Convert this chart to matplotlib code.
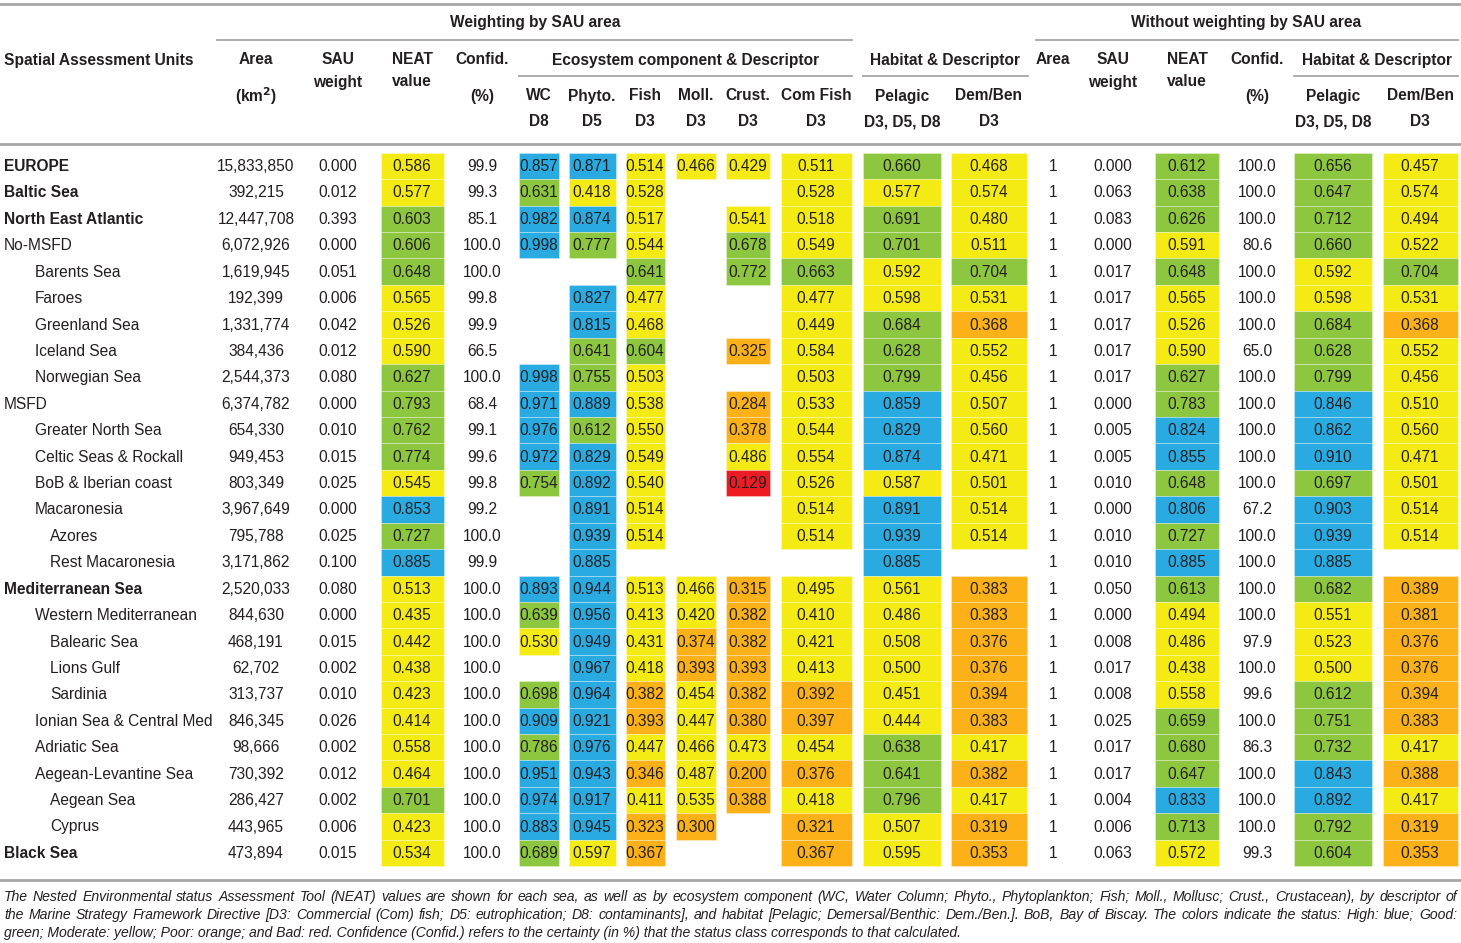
import numpy as np
import matplotlib
matplotlib.use("Agg")
import matplotlib.pyplot as plt
from matplotlib.colors import ListedColormap, BoundaryNorm
from matplotlib import font_manager

nan = np.nan

units = ["EUROPE", "Baltic Sea", "North East Atlantic", "No-MSFD", "Barents Sea", "Faroes",
         "Greenland Sea", "Iceland Sea", "Norwegian Sea", "MSFD", "Greater North Sea",
         "Celtic Seas & Rockall", "BoB & Iberian coast", "Macaronesia", "Azores",
         "Rest Macaronesia", "Mediterranean Sea", "Western Mediterranean", "Balearic Sea",
         "Lions Gulf", "Sardinia", "Ionian Sea & Central Med", "Adriatic Sea",
         "Aegean-Levantine Sea", "Aegean Sea", "Cyprus", "Black Sea"]
level = [0, 0, 0, 0, 1, 1, 1, 1, 1, 0, 1, 1, 1, 1, 2, 2, 0, 1, 2, 2, 2, 1, 1, 1, 2, 2, 0]
bold_rows = ["EUROPE", "Baltic Sea", "North East Atlantic", "Mediterranean Sea", "Black Sea"]

# weighting by SAU area
area_km2 = [15833850, 392215, 12447708, 6072926, 1619945, 192399, 1331774, 384436, 2544373,
            6374782, 654330, 949453, 803349, 3967649, 795788, 3171862, 2520033, 844630,
            468191, 62702, 313737, 846345, 98666, 730392, 286427, 443965, 473894]
sau_w = [0.000, 0.012, 0.393, 0.000, 0.051, 0.006, 0.042, 0.012, 0.080, 0.000, 0.010, 0.015,
         0.025, 0.000, 0.025, 0.100, 0.080, 0.000, 0.015, 0.002, 0.010, 0.026, 0.002, 0.012,
         0.002, 0.006, 0.015]
neat_w = [0.586, 0.577, 0.603, 0.606, 0.648, 0.565, 0.526, 0.590, 0.627, 0.793, 0.762, 0.774,
          0.545, 0.853, 0.727, 0.885, 0.513, 0.435, 0.442, 0.438, 0.423, 0.414, 0.558, 0.464,
          0.701, 0.423, 0.534]
conf_w = [99.9, 99.3, 85.1, 100.0, 100.0, 99.8, 99.9, 66.5, 100.0, 68.4, 99.1, 99.6, 99.8,
          99.2, 100.0, 99.9, 100.0, 100.0, 100.0, 100.0, 100.0, 100.0, 100.0, 100.0, 100.0,
          100.0, 100.0]
wc_d8 = [0.857, 0.631, 0.982, 0.998, nan, nan, nan, nan, 0.998, 0.971, 0.976, 0.972, 0.754,
         nan, nan, nan, 0.893, 0.639, 0.530, nan, 0.698, 0.909, 0.786, 0.951, 0.974, 0.883, 0.689]
phyto_d5 = [0.871, 0.418, 0.874, 0.777, nan, 0.827, 0.815, 0.641, 0.755, 0.889, 0.612, 0.829,
            0.892, 0.891, 0.939, 0.885, 0.944, 0.956, 0.949, 0.967, 0.964, 0.921, 0.976, 0.943,
            0.917, 0.945, 0.597]
fish_d3 = [0.514, 0.528, 0.517, 0.544, 0.641, 0.477, 0.468, 0.604, 0.503, 0.538, 0.550, 0.549,
           0.540, 0.514, 0.514, nan, 0.513, 0.413, 0.431, 0.418, 0.382, 0.393, 0.447, 0.346,
           0.411, 0.323, 0.367]
moll_d3 = [0.466, nan, nan, nan, nan, nan, nan, nan, nan, nan, nan, nan, nan, nan, nan, nan,
           0.466, 0.420, 0.374, 0.393, 0.454, 0.447, 0.466, 0.487, 0.535, 0.300, nan]
crust_d3 = [0.429, nan, 0.541, 0.678, 0.772, nan, nan, 0.325, nan, 0.284, 0.378, 0.486, 0.129,
            nan, nan, nan, 0.315, 0.382, 0.382, 0.393, 0.382, 0.380, 0.473, 0.200, 0.388, nan, nan]
comfish_d3 = [0.511, 0.528, 0.518, 0.549, 0.663, 0.477, 0.449, 0.584, 0.503, 0.533, 0.544,
              0.554, 0.526, 0.514, 0.514, nan, 0.495, 0.410, 0.421, 0.413, 0.392, 0.397, 0.454,
              0.376, 0.418, 0.321, 0.367]
pel_w = [0.660, 0.577, 0.691, 0.701, 0.592, 0.598, 0.684, 0.628, 0.799, 0.859, 0.829, 0.874,
         0.587, 0.891, 0.939, 0.885, 0.561, 0.486, 0.508, 0.500, 0.451, 0.444, 0.638, 0.641,
         0.796, 0.507, 0.595]
dem_w = [0.468, 0.574, 0.480, 0.511, 0.704, 0.531, 0.368, 0.552, 0.456, 0.507, 0.560, 0.471,
         0.501, 0.514, 0.514, nan, 0.383, 0.383, 0.376, 0.376, 0.394, 0.383, 0.417, 0.382,
         0.417, 0.319, 0.353]

# without weighting by SAU area
area_u = [1] * 27
sau_u = [0.000, 0.063, 0.083, 0.000, 0.017, 0.017, 0.017, 0.017, 0.017, 0.000, 0.005, 0.005,
         0.010, 0.000, 0.010, 0.010, 0.050, 0.000, 0.008, 0.017, 0.008, 0.025, 0.017, 0.017,
         0.004, 0.006, 0.063]
neat_u = [0.612, 0.638, 0.626, 0.591, 0.648, 0.565, 0.526, 0.590, 0.627, 0.783, 0.824, 0.855,
          0.648, 0.806, 0.727, 0.885, 0.613, 0.494, 0.486, 0.438, 0.558, 0.659, 0.680, 0.647,
          0.833, 0.713, 0.572]
conf_u = [100.0, 100.0, 100.0, 80.6, 100.0, 100.0, 100.0, 65.0, 100.0, 100.0, 100.0, 100.0,
          100.0, 67.2, 100.0, 100.0, 100.0, 100.0, 97.9, 100.0, 99.6, 100.0, 86.3, 100.0,
          100.0, 100.0, 99.3]
pel_u = [0.656, 0.647, 0.712, 0.660, 0.592, 0.598, 0.684, 0.628, 0.799, 0.846, 0.862, 0.910,
         0.697, 0.903, 0.939, 0.885, 0.682, 0.551, 0.523, 0.500, 0.612, 0.751, 0.732, 0.843,
         0.892, 0.792, 0.604]
dem_u = [0.457, 0.574, 0.494, 0.522, 0.704, 0.531, 0.368, 0.552, 0.456, 0.510, 0.560, 0.471,
         0.501, 0.514, 0.514, nan, 0.389, 0.381, 0.376, 0.376, 0.394, 0.383, 0.417, 0.388,
         0.417, 0.319, 0.353]

# status classes: Bad, Poor, Moderate, Good, High
status_bounds = [0.0, 0.2, 0.4, 0.6, 0.8, 1.0]
status_colors = ["#ed1c24", "#fbb117", "#f5eb14", "#8dc63f", "#29abe2"]

caption = [
    "The Nested Environmental status Assessment Tool (NEAT) values are shown for each sea, as well as by ecosystem component (WC, Water Column; Phyto., Phytoplankton; Fish; Moll., Mollusc; Crust., Crustacean), by descriptor of",
    "the Marine Strategy Framework Directive [D3: Commercial (Com) fish; D5: eutrophication; D8: contaminants], and habitat [Pelagic; Demersal/Benthic: Dem./Ben.]. BoB, Bay of Biscay. The colors indicate the status: High: blue; Good:",
    "green; Moderate: yellow; Poor: orange; and Bad: red. Confidence (Confid.) refers to the certainty (in %) that the status class corresponds to that calculated.",
]

cmap = ListedColormap(status_colors)
norm = BoundaryNorm(status_bounds, cmap.N)

plt.rcParams['font.family'] = ['Liberation Sans', 'DejaVu Sans']
txt = '#231f20'
line_c = '#a6a6a6'
fs = 11.2

W, H = 1461, 943
fig = plt.figure(figsize=(W / 100, H / 100), dpi=100)
ax = fig.add_axes([0, 0, 1, 1])
ax.set_xlim(0, W)
ax.set_ylim(H, 0)
ax.axis('off')

n = len(units)
y0, dy = 166, 26.42
yc = y0 + dy * np.arange(n)

# (center, cell width or None, values, format)
columns = [
    (256, None, area_km2, "{:,}"),
    (338, None, sau_w, "{:.3f}"),
    (412, 63, neat_w, "{:.3f}"),
    (482, None, conf_w, "{:.1f}"),
    (539, 40, wc_d8, "{:.3f}"),
    (592, 47, phyto_d5, "{:.3f}"),
    (645, 39, fish_d3, "{:.3f}"),
    (696, 40, moll_d3, "{:.3f}"),
    (748, 44, crust_d3, "{:.3f}"),
    (816, 71, comfish_d3, "{:.3f}"),
    (902, 78, pel_w, "{:.3f}"),
    (989, 76, dem_w, "{:.3f}"),
    (1053, None, area_u, "{:d}"),
    (1113, None, sau_u, "{:.3f}"),
    (1187, 64, neat_u, "{:.3f}"),
    (1257, None, conf_u, "{:.1f}"),
    (1333, 78, pel_u, "{:.3f}"),
    (1420, 75, dem_u, "{:.3f}"),
]

for cx, w, vals, fmt in columns:
    v = np.array(vals, dtype=float)
    ok = ~np.isnan(v)
    if w is not None:
        ax.bar(np.full(ok.sum(), cx), dy, width=w, bottom=yc[ok] - dy / 2,
               color=cmap(norm(v[ok])), edgecolor=(1, 1, 1, 0.35), linewidth=0.6)
    for y, val, good in zip(yc, vals, ok):
        if good:
            ax.text(cx, y + 0.5, fmt.format(val), ha='center', va='center', fontsize=fs,
                    color=txt)

indent = {0: 4, 1: 35, 2: 50}
for y, name, lv in zip(yc, units, level):
    ax.text(indent[lv], y + 0.5, name, ha='left', va='center', fontsize=fs, color=txt,
            fontweight='bold' if name in bold_rows else 'normal')

# header
hb = dict(ha='center', va='center', fontsize=fs, color=txt, fontweight='bold')
ax.text(535, 23, "Weighting by SAU area", **hb)
ax.text(1246, 23, "Without weighting by SAU area", **hb)
ax.text(4, 60, "Spatial Assessment Units", **{**hb, 'ha': 'left'})
for cx, lines in [(256, ["Area", None, "(km$^{\\mathbf{2}}$)"]), (338, ["SAU", "weight"]),
                  (412, ["NEAT", "value"]), (482, ["Confid.", None, "(%)"]),
                  (1053, ["Area"]), (1113, ["SAU", "weight"]), (1187, ["NEAT", "value"]),
                  (1257, ["Confid.", None, "(%)"])]:
    for y, s in zip([60, 82, 96], lines):
        if s:
            ax.text(cx, y, s, **hb)
ax.text(686, 60, "Ecosystem component & Descriptor", **hb)
ax.text(945, 60, "Habitat & Descriptor", **hb)
ax.text(1377, 60, "Habitat & Descriptor", **hb)
sub = [(539, "WC", "D8"), (592, "Phyto.", "D5"), (645, "Fish", "D3"), (696, "Moll.", "D3"),
       (748, "Crust.", "D3"), (816, "Com Fish", "D3"), (902, "Pelagic", "D3, D5, D8"),
       (989, "Dem/Ben", "D3"), (1333, "Pelagic", "D3, D5, D8"), (1420, "Dem/Ben", "D3")]
for cx, a, b in sub:
    ax.text(cx, 96, a, **hb)
    ax.text(cx, 122, b, **hb)

# rules
ax.plot([0, W], [4, 4], color=line_c, lw=2)
ax.plot([0, W], [144, 144], color=line_c, lw=2)
ax.plot([0, W], [880, 880], color=line_c, lw=2)
for x1, x2, y in [(217, 852, 40), (1036, 1458, 40), (519, 852, 76), (863, 1028, 76),
                  (1294, 1458, 76)]:
    ax.plot([x1, x2], [y, y], color=line_c, lw=1.3)

# caption, justified to the table width
plt.rcParams['mathtext.fontset'] = 'custom'
cap_fam = ['Liberation Sans Narrow', 'Liberation Sans', 'DejaVu Sans']
try:
    font_manager.findfont(font_manager.FontProperties(family='Liberation Sans Narrow'),
                          fallback_to_default=False)
except Exception:
    cap_fam = ['Liberation Sans', 'DejaVu Sans']
r = fig.canvas.get_renderer()
cap_kw = dict(style='italic', family=cap_fam, color=txt, va='center', ha='left')


def width_of(s, size):
    t = ax.text(0, 0, s, fontsize=size, **cap_kw)
    wpx = t.get_window_extent(r).width
    t.remove()
    return wpx


cfs = 10 * 1430 / width_of(caption[0], 10)
x_left, x_right = 4, 1457
for i, (y, s) in enumerate(zip([897, 915, 933], caption)):
    if i == len(caption) - 1:
        ax.text(x_left, y, s, fontsize=cfs, **cap_kw)
        continue
    words = s.split(' ')
    ws = [width_of(wd, cfs) for wd in words]
    gap = (x_right - x_left - sum(ws)) / (len(words) - 1)
    x = x_left
    for wd, wpx in zip(words, ws):
        ax.text(x, y, wd, fontsize=cfs, **cap_kw)
        x += wpx + gap

fig.savefig('out.png', dpi=100)
